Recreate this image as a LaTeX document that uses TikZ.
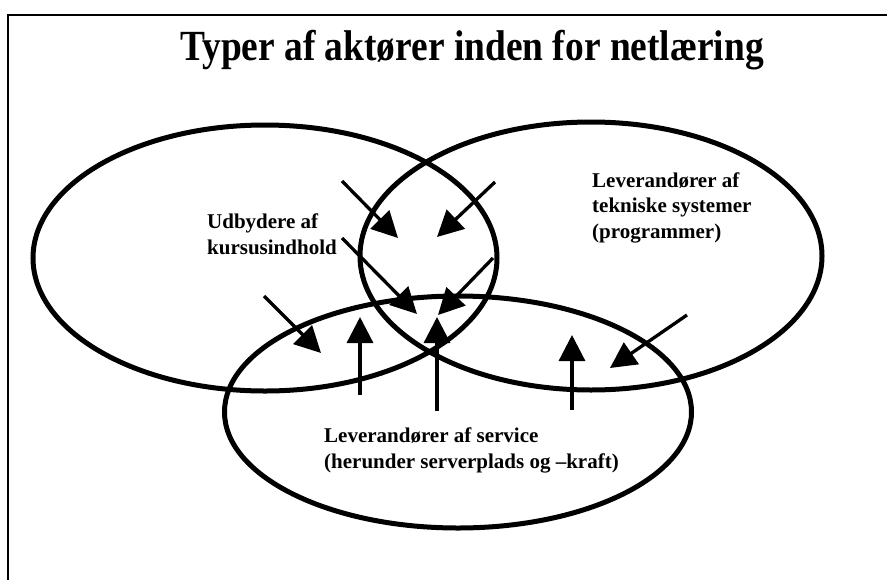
\documentclass[tikz,border=0pt]{standalone}
\usepackage{fontspec}
\usepackage{graphicx}
\setmainfont{Liberation Serif}
\usetikzlibrary{arrows.meta,shapes.geometric}
\begin{document}
\begin{tikzpicture}[x=1pt,y=1pt,
  venn/.style={ellipse, draw, line width=5pt, inner sep=0pt},
  lbl/.style={font=\fontsize{21}{25.5}\selectfont\bfseries, align=left, inner sep=0pt, anchor=base west},
  arr/.style={line width=3.3pt, -{Triangle[length=26pt,width=26pt]}},
]
\useasboundingbox (0,0) rectangle (887,-579);
\draw[line width=2pt, line join=miter] (8,-580) -- (8,-15) -- (888,-15);
\node[font=\fontsize{43}{50}\selectfont\bfseries, inner sep=0pt, anchor=base] (title) at (472,-60) {\scalebox{0.87}[1]{Typer af aktører inden for netlæring}};
\node[venn, minimum width=464pt, minimum height=266pt] (A) at (265,-258) {};
\node[venn, minimum width=462pt, minimum height=268pt] (B) at (591,-256) {};
\node[venn, minimum width=467pt, minimum height=232pt] (C) at (458,-412) {};
\node[lbl] (UK) at (207,-254) {Udbydere af\\kursusindhold};
\node[lbl] (LT) at (592,-238) {Leverandører af\\tekniske systemer\\(programmer)};
\node[lbl] (LS) at (324,-468) {Leverandører af service\\(herunder serverplads og –kraft)};
\coordinate (t1) at (342,-181); \coordinate (h1) at (398,-238);
\coordinate (t2) at (495,-182); \coordinate (h2) at (437,-237);
\coordinate (t3) at (342,-238); \coordinate (h3) at (417,-314);
\coordinate (t4) at (493,-258); \coordinate (h4) at (438,-315);
\coordinate (t5) at (437,-411); \coordinate (h5) at (437,-317);
\coordinate (t6) at (360,-395); \coordinate (h6) at (360,-317);
\coordinate (t7) at (264,-296); \coordinate (h7) at (321,-353);
\coordinate (t8) at (572,-410); \coordinate (h8) at (572,-335);
\coordinate (t9) at (687,-315); \coordinate (h9) at (610,-368);
\foreach \i in {1,...,9} {\draw[arr] (t\i) -- (h\i);}
\end{tikzpicture}
\end{document}
